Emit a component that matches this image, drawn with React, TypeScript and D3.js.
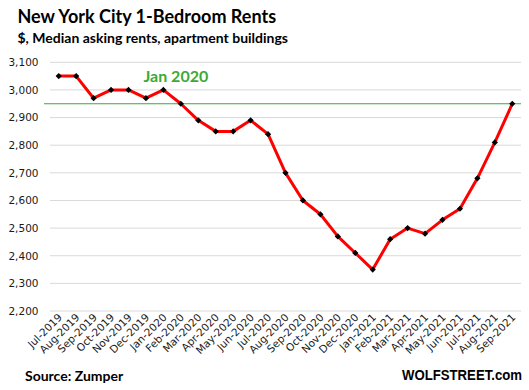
import React from "react";
import * as d3 from "d3";

const months = [
  "Jul-2019","Aug-2019","Sep-2019","Oct-2019","Nov-2019","Dec-2019",
  "Jan-2020","Feb-2020","Mar-2020","Apr-2020","May-2020","Jun-2020",
  "Jul-2020","Aug-2020","Sep-2020","Oct-2020","Nov-2020","Dec-2020",
  "Jan-2021","Feb-2021","Mar-2021","Apr-2021","May-2021","Jun-2021",
  "Jul-2021","Aug-2021","Sep-2021",
];
const rents = [
  3050, 3050, 2970, 3000, 3000, 2970,
  3000, 2950, 2890, 2850, 2850, 2890,
  2840, 2700, 2600, 2550, 2470, 2410,
  2350, 2460, 2500, 2480, 2530, 2570,
  2680, 2810, 2950,
];
const yTicks = [2200, 2300, 2400, 2500, 2600, 2700, 2800, 2900, 3000, 3100];
const jan2020Level = 2950;

const W = 529, H = 390;
const left = 50, right = 521, top = 62.3, bottom = 311;

export default function App() {
  const x = d3.scaleBand<string>().domain(months).range([left, right]);
  const y = d3.scaleLinear().domain([2200, 3100]).range([bottom, top]);
  const cx = (m: string) => (x(m) as number) + x.bandwidth() / 2;
  const line = d3.line<number>().x((_, i) => cx(months[i])).y((d) => y(d));
  const fmt = d3.format(",");
  const axisFont = "'DejaVu Sans', Verdana, sans-serif";
  const titleFont = "Lato, 'Open Sans', sans-serif";

  return (
    <svg width={W} height={H} style={{ position: "absolute", left: 0, top: 0, background: "#fff" }}>
      <rect width={W} height={H} fill="#fff" />
      <text x={17.5} y={22.7} fontFamily={titleFont} fontWeight={700} fontSize={18} fill="#000">
        New York City 1-Bedroom Rents
      </text>
      <text x={17.5} y={42.5} fontFamily={titleFont} fontWeight={700} fontSize={14} fill="#000">
        $, Median asking rents, apartment buildings
      </text>
      {yTicks.map((t) => (
        <g key={t}>
          <line x1={left} x2={right} y1={y(t)} y2={y(t)} stroke="#d9d9d9" strokeWidth={1} />
          <text x={38.5} y={y(t) + 3.8} textAnchor="end" fontFamily={axisFont} fontSize={10.5} fill="#1a1a1a">
            {fmt(t)}
          </text>
        </g>
      ))}
      <line x1={44} x2={right} y1={y(jan2020Level)} y2={y(jan2020Level)} stroke="#3aaa35" strokeWidth={1} />
      <text x={143.5} y={81.7} fontFamily={titleFont} fontWeight={700} fontSize={16} fill="#3aaa35">
        Jan 2020
      </text>
      <path d={line(rents) as string} fill="none" stroke="#ff0000" strokeWidth={3} strokeLinejoin="round" />
      {rents.map((v, i) => (
        <rect key={i} x={cx(months[i]) - 2.2} y={y(v) - 2.2} width={4.4} height={4.4}
          fill="#000" transform={`rotate(45 ${cx(months[i])} ${y(v)})`} />
      ))}
      {months.map((m) => (
        <text key={m} transform={`translate(${cx(m) + 4},${318}) rotate(-45)`} textAnchor="end"
          fontFamily={axisFont} fontSize={10.5} fill="#1a1a1a">
          {m}
        </text>
      ))}
      <text x={25} y={380.5} fontFamily={titleFont} fontWeight={700} fontSize={14} fill="#000">
        Source: Zumper
      </text>
      <text transform="translate(522,380) scale(0.85,1)" textAnchor="end"
        fontFamily="'Liberation Sans', Arial, sans-serif" fontWeight={700} fontSize={15.5} fill="#000">
        WOLFSTREET.com
      </text>
    </svg>
  );
}
